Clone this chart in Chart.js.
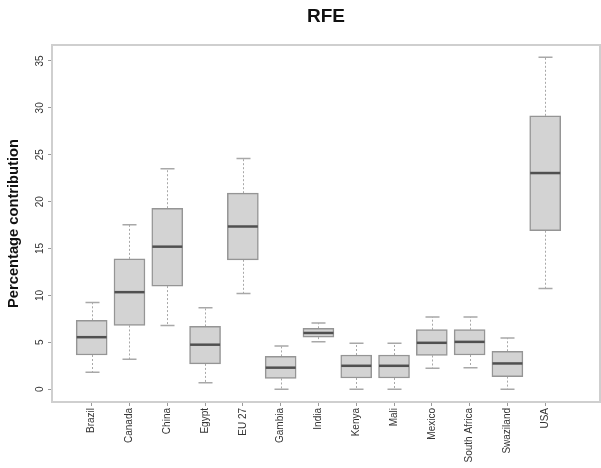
<!DOCTYPE html>
<html>
<head>
<meta charset="utf-8">
<script src="https://cdn.jsdelivr.net/npm/chart.js@4/dist/chart.umd.min.js"></script>
<style>
  html, body { margin: 0; padding: 0; background: #ffffff; }
  canvas { display: block; }
</style>
</head>
<body>
<canvas id="chart" width="601" height="468"></canvas>
<script>
// Share of RFE (percentage contribution) by region: five-number summaries
const categories = ['Brazil', 'Canada', 'China', 'Egypt', 'EU 27', 'Gambia', 'India',
                    'Kenya', 'Mali', 'Mexico', 'South Africa', 'Swaziland', 'USA'];
const whiskerLow  = [1.8, 3.2, 6.8, 0.7, 10.2, 0.0, 5.05, 0.0, 0.0, 2.25, 2.3, 0.0, 10.75];
const lowerQuart  = [3.65, 6.8, 11.0, 2.7, 13.8, 1.15, 5.55, 1.2, 1.2, 3.6, 3.65, 1.35, 16.9];
const medians     = [5.55, 10.35, 15.2, 4.75, 17.35, 2.3, 6.0, 2.5, 2.5, 4.95, 5.05, 2.75, 23.05];
const upperQuart  = [7.35, 13.9, 19.3, 6.7, 20.9, 3.5, 6.5, 3.65, 3.65, 6.35, 6.35, 4.05, 29.15];
const whiskerHigh = [9.25, 17.55, 23.5, 8.7, 24.6, 4.6, 7.05, 4.9, 4.9, 7.7, 7.7, 5.45, 35.4];
const yTickValues = [0, 5, 10, 15, 20, 25, 30, 35];

const FONT = "'Liberation Sans', Arial, Helvetica, sans-serif";
const BOX_WIDTH = 31;
const CAP_HALF = 7;

// Whiskers, caps and the outer frame go under the boxes; medians on top.
const boxplotParts = {
  id: 'boxplotParts',
  beforeDatasetsDraw(chart) {
    const { ctx, chartArea: a, scales: { x, y } } = chart;
    ctx.save();
    // plot frame
    ctx.strokeStyle = '#cfcfcf';
    ctx.lineWidth = 2;
    ctx.strokeRect(a.left, a.top, a.right - a.left, a.bottom - a.top);
    // whiskers
    categories.forEach((c, i) => {
      const px = Math.round(x.getPixelForValue(i + 1)) + 0.5;
      const yLo = y.getPixelForValue(whiskerLow[i]);
      const yQ1 = y.getPixelForValue(lowerQuart[i]);
      const yQ3 = y.getPixelForValue(upperQuart[i]);
      const yHi = y.getPixelForValue(whiskerHigh[i]);
      ctx.strokeStyle = '#a8a8a8';
      ctx.lineWidth = 1;
      ctx.setLineDash([2, 2]);
      ctx.beginPath();
      ctx.moveTo(px, yQ3); ctx.lineTo(px, yHi);
      ctx.moveTo(px, yQ1); ctx.lineTo(px, yLo);
      ctx.stroke();
      ctx.setLineDash([]);
      ctx.lineWidth = 1.5;
      ctx.beginPath();
      ctx.moveTo(px - CAP_HALF, yHi); ctx.lineTo(px + CAP_HALF, yHi);
      ctx.moveTo(px - CAP_HALF, yLo); ctx.lineTo(px + CAP_HALF, yLo);
      ctx.stroke();
    });
    ctx.restore();
  },
  afterDatasetsDraw(chart) {
    const { ctx, scales: { x, y } } = chart;
    ctx.save();
    ctx.strokeStyle = '#505050';
    ctx.lineWidth = 2.5;
    categories.forEach((c, i) => {
      const px = x.getPixelForValue(i + 1);
      const py = y.getPixelForValue(medians[i]);
      ctx.beginPath();
      ctx.moveTo(px - BOX_WIDTH / 2 + 0.5, py);
      ctx.lineTo(px + BOX_WIDTH / 2 - 0.5, py);
      ctx.stroke();
    });
    ctx.restore();
  }
};

new Chart(document.getElementById('chart'), {
  type: 'bar',
  data: {
    datasets: [{
      label: 'RFE',
      data: categories.map((c, i) => ({ x: i + 1, y: [lowerQuart[i], upperQuart[i]] })),
      backgroundColor: '#d3d3d3',
      borderColor: '#959595',
      borderWidth: 1.5,
      borderSkipped: false,
      barThickness: BOX_WIDTH
    }]
  },
  options: {
    responsive: false,
    devicePixelRatio: 1,
    animation: false,
    layout: { padding: { left: 0, right: 1, top: 0, bottom: 0 } },
    plugins: {
      legend: { display: false },
      tooltip: { enabled: false },
      title: {
        display: true,
        text: 'RFE',
        fullSize: false,
        color: '#111111',
        font: { family: FONT, size: 19, weight: 'bold' },
        padding: { top: 5, bottom: 17.2 }
      }
    },
    scales: {
      x: {
        type: 'linear',
        offset: false,
        min: -0.05,
        max: 14.45,
        afterBuildTicks: (axis) => { axis.ticks = categories.map((c, i) => ({ value: i + 1 })); },
        afterFit: (axis) => { axis.height = 66; axis.paddingLeft = 0; axis.paddingRight = 0; },
        border: { display: false },
        grid: { display: true, offset: false, drawOnChartArea: false, drawTicks: true, tickLength: 4, color: '#9a9a9a' },
        ticks: {
          autoSkip: false,
          minRotation: 90,
          maxRotation: 90,
          padding: 2,
          color: '#333333',
          font: { family: FONT, size: 10 },
          callback: (v) => categories[v - 1]
        }
      },
      y: {
        type: 'linear',
        min: -1.36,
        max: 36.7,
        afterBuildTicks: (axis) => { axis.ticks = yTickValues.map(v => ({ value: v })); },
        afterFit: (axis) => { axis.width = 52; axis.paddingTop = 0; axis.paddingBottom = 0; },
        border: { display: false },
        grid: { display: true, drawOnChartArea: false, drawTicks: true, tickLength: 4, color: '#9a9a9a' },
        ticks: {
          minRotation: 90,
          maxRotation: 90,
          crossAlign: 'center',
          padding: 2,
          color: '#333333',
          font: { family: FONT, size: 10 },
          callback: (v) => String(v)
        },
        title: {
          display: true,
          text: 'Percentage contribution',
          color: '#111111',
          font: { family: FONT, size: 14.7, weight: 'bold' },
          padding: { top: 5, bottom: 0 }
        }
      }
    }
  },
  plugins: [boxplotParts]
});
</script>
</body>
</html>
